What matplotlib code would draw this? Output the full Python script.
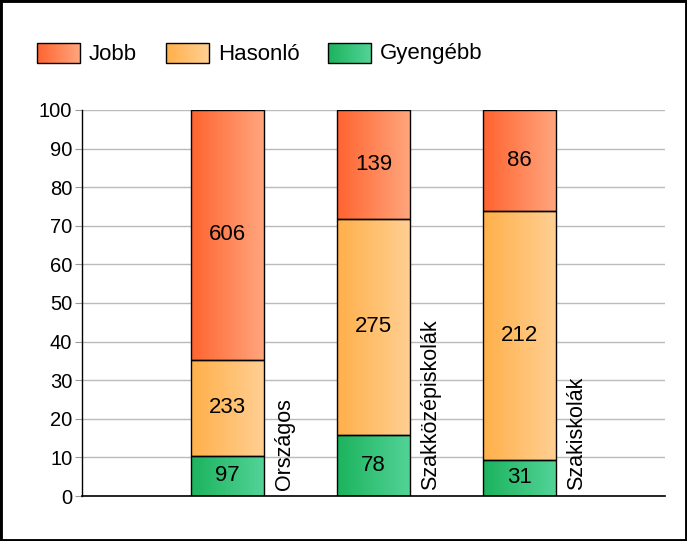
import numpy as np
import matplotlib
matplotlib.use("Agg")
import matplotlib.pyplot as plt
from matplotlib.colors import LinearSegmentedColormap
from matplotlib.patches import Rectangle

plt.rcParams["font.family"] = ["Liberation Sans", "DejaVu Sans"]

# ---------------- DATA ----------------
categories = ["Országos", "Szakközépiskolák", "Szakiskolák"]
series_names = ["Gyengébb", "Hasonló", "Jobb"]
gyengebb = [97, 78, 31]
hasonlo = [233, 275, 212]
jobb = [606, 139, 86]
y_ticks = [0, 10, 20, 30, 40, 50, 60, 70, 80, 90, 100]

# gradient colours (left -> right) per series
grad_colors = {
    "Gyengébb": ("#1cb35e", "#52d396"),
    "Hasonló": ("#ffb04a", "#ffcf92"),
    "Jobb": ("#ff6430", "#ffa57d"),
}
legend_order = ["Jobb", "Hasonló", "Gyengébb"]

counts = np.array([gyengebb, hasonlo, jobb], dtype=float)
totals = counts.sum(axis=0)
percents = counts / totals * 100

# ---------------- FIGURE ----------------
fig = plt.figure(figsize=(6.87, 5.41), dpi=100)
ax = fig.add_axes([82 / 687, 45 / 541, 583 / 687, 386 / 541])

x = np.arange(len(categories))
grad = np.linspace(0, 1, 64).reshape(1, -1)
bottom = np.zeros(len(categories))

for i, name in enumerate(series_names):
    cmap = LinearSegmentedColormap.from_list(name, grad_colors[name])
    bars = ax.bar(x, percents[i], 0.5, bottom=bottom, facecolor="none",
                  edgecolor="black", linewidth=1, zorder=3)
    for p in bars.patches:
        x0, y0 = p.get_x(), p.get_y()
        img = ax.imshow(grad, cmap=cmap, aspect="auto", zorder=2,
                        extent=[x0, x0 + p.get_width(), y0, y0 + p.get_height()])
        img.set_clip_path(p)
    ax.bar_label(bars, labels=[str(int(v)) for v in counts[i]],
                 label_type="center", fontsize=16, zorder=4)
    bottom += percents[i]

for xi, cat in zip(x, categories):
    ax.text(xi + 0.39, 1.5, cat, rotation=90, ha="center", va="bottom",
            fontsize=15.5)

ax.set_xlim(-1, 3)
ax.set_ylim(0, 100)
ax.set_yticks(y_ticks)
ax.tick_params(axis="y", labelsize=14.5, length=5, color="#999999", pad=2)
ax.set_xticks([])
ax.yaxis.grid(True, color="#bbbbbb", linewidth=1, zorder=0)
ax.set_axisbelow(True)
for s in ["top", "right"]:
    ax.spines[s].set_visible(False)
ax.spines["left"].set_linewidth(1)
ax.spines["bottom"].set_linewidth(1.2)

# ---------------- LEGEND (drawn in pixel space) ----------------
lax = fig.add_axes([0, 0, 1, 1])
lax.set_xlim(0, 687)
lax.set_ylim(541, 0)
lax.axis("off")
leg_x = [37, 166, 328]
for lx, name in zip(leg_x, legend_order):
    cmap = LinearSegmentedColormap.from_list(name, grad_colors[name])
    lax.imshow(grad, cmap=cmap, aspect="auto", extent=[lx, lx + 43, 63, 43])
    lax.add_patch(Rectangle((lx, 43), 43, 20, fill=False, edgecolor="black",
                            linewidth=1))
    lax.text(lx + 52, 54, name, fontsize=16, va="center", ha="left")
lax.set_xlim(0, 687)
lax.set_ylim(541, 0)

# outer frame
fig.patches.append(Rectangle((0, 0), 1, 1, transform=fig.transFigure,
                             fill=False, edgecolor="black", linewidth=3.5))

fig.savefig("out.png", dpi=100)
